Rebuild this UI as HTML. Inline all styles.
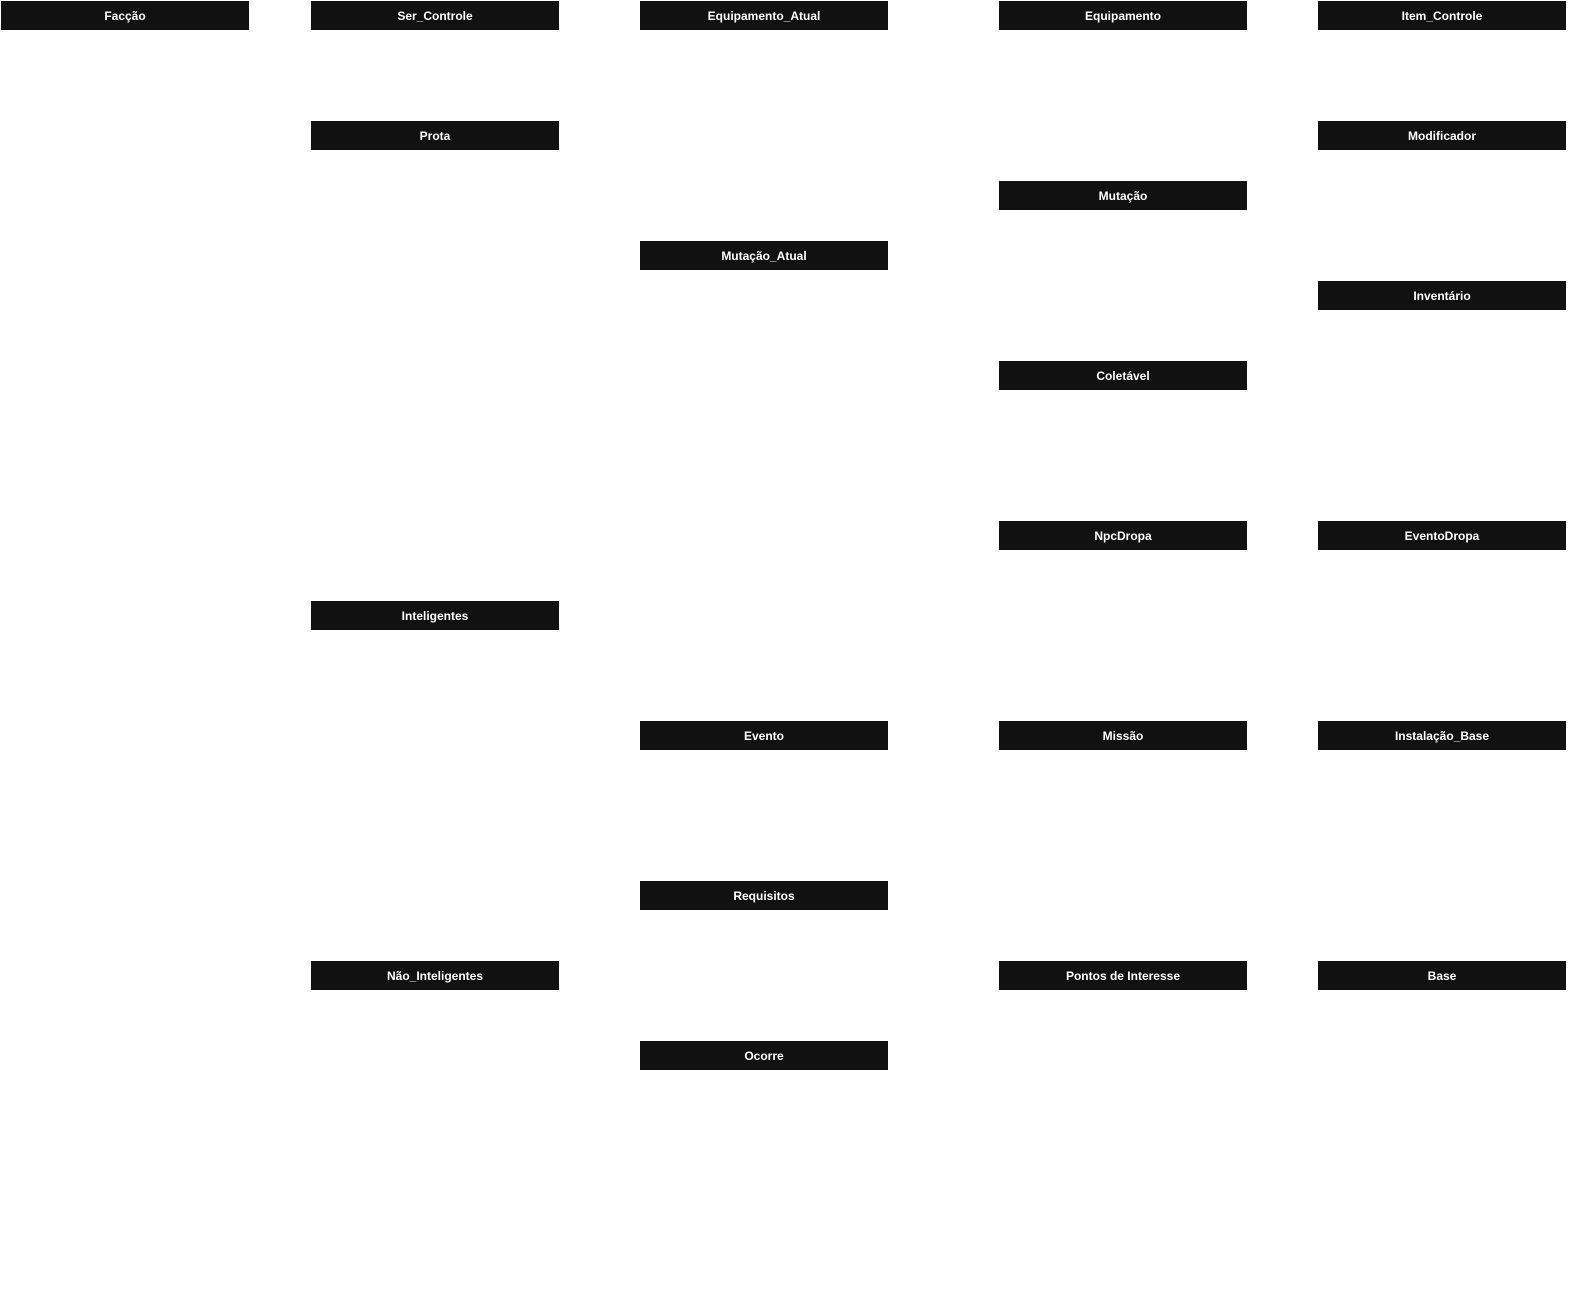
<!DOCTYPE html>
<html><head><meta charset="utf-8"><style>
html,body{margin:0;padding:0;background:#fff;width:1572px;height:1302px;overflow:hidden;position:relative}
.b{position:absolute;width:248px;height:29px;background:#111;color:#fff;font:bold 12px "Liberation Sans",sans-serif;display:flex;align-items:center;justify-content:center;box-sizing:border-box}
</style></head><body>
<div class="b" style="left:1px;top:1px">Facção</div>
<div class="b" style="left:311px;top:1px">Ser_Controle</div>
<div class="b" style="left:640px;top:1px">Equipamento_Atual</div>
<div class="b" style="left:999px;top:1px">Equipamento</div>
<div class="b" style="left:1318px;top:1px">Item_Controle</div>
<div class="b" style="left:311px;top:121px">Prota</div>
<div class="b" style="left:1318px;top:121px">Modificador</div>
<div class="b" style="left:999px;top:181px">Mutação</div>
<div class="b" style="left:640px;top:241px">Mutação_Atual</div>
<div class="b" style="left:1318px;top:281px">Inventário</div>
<div class="b" style="left:999px;top:361px">Coletável</div>
<div class="b" style="left:999px;top:521px">NpcDropa</div>
<div class="b" style="left:1318px;top:521px">EventoDropa</div>
<div class="b" style="left:311px;top:601px">Inteligentes</div>
<div class="b" style="left:640px;top:721px">Evento</div>
<div class="b" style="left:999px;top:721px">Missão</div>
<div class="b" style="left:1318px;top:721px">Instalação_Base</div>
<div class="b" style="left:640px;top:881px">Requisitos</div>
<div class="b" style="left:311px;top:961px">Não_Inteligentes</div>
<div class="b" style="left:999px;top:961px">Pontos de Interesse</div>
<div class="b" style="left:1318px;top:961px">Base</div>
<div class="b" style="left:640px;top:1041px">Ocorre</div>
</body></html>
